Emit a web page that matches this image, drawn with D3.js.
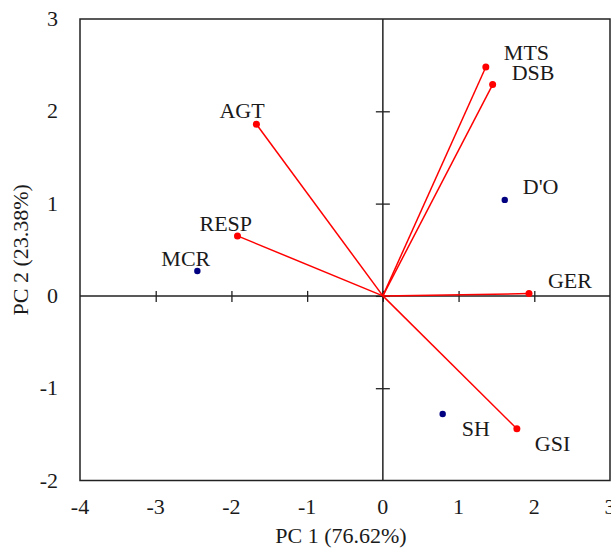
<!DOCTYPE html>
<html><head><meta charset="utf-8">
<script src="https://cdn.jsdelivr.net/npm/d3@7"></script>
<style>body{margin:0;background:#fff}svg{display:block}text{font-family:"Liberation Serif","Times New Roman",serif;fill:#1a1a1a}</style>
</head><body><svg id="c" width="611" height="549"></svg>
<script>
// Variable loadings (vectors)
const varNames = ["MTS","DSB","GER","GSI","AGT","RESP"];
const varPC1 = [1.36, 1.45, 1.93, 1.77, -1.67, -1.92];
const varPC2 = [2.48, 2.29, 0.025, -1.44, 1.86, 0.65];
// Observation scores
const obsNames = ["MCR","D'O","SH"];
const obsPC1 = [-2.45, 1.61, 0.79];
const obsPC2 = [0.27, 1.04, -1.28];
// Axis ticks
const xTicks = [-4,-3,-2,-1,0,1,2,3];
const yTicks = [-2,-1,0,1,2,3];
const xTitle = "PC 1 (76.62%)";
const yTitle = "PC 2 (23.38%)";

// label placement (layout only)
const labelOffset = {
  "MTS":[18,-7],"DSB":[19,-5],"GER":[19,-6],"GSI":[18,22],
  "AGT":[-37,-6],"RESP":[-38,-5],"MCR":[-36,-5],"D'O":[18,-6],"SH":[19,22]
};

const svg = d3.select("#c");
const L=80, R=610, T=19, B=480.5;
const x = d3.scaleLinear().domain([-4,3]).range([L,R]);
const y = d3.scaleLinear().domain([-2,3]).range([B,T]);
const fs = 22;

// frame
svg.append("rect").attr("x",L).attr("y",T).attr("width",R-L).attr("height",B-T)
  .attr("fill","none").attr("stroke","#222").attr("stroke-width",1.5);

// axes through origin
const xAxis = d3.axisBottom(x).tickValues(xTicks.filter(d=>d>-4&&d<3)).tickSize(0).tickFormat("");
const gx = svg.append("g").attr("transform",`translate(0,${y(0)})`).call(xAxis);
gx.select(".domain").remove();
gx.selectAll(".tick").append("line").attr("y1",-5).attr("y2",6).attr("stroke","#222").attr("stroke-width",1.3);
svg.append("line").attr("x1",L).attr("x2",R).attr("y1",y(0)).attr("y2",y(0)).attr("stroke","#222").attr("stroke-width",1.5);

const yAxis = d3.axisLeft(y).tickValues(yTicks.filter(d=>d>-2&&d<3)).tickSize(0).tickFormat("");
const gy = svg.append("g").attr("transform",`translate(${x(0)},0)`).call(yAxis);
gy.select(".domain").remove();
gy.selectAll(".tick").append("line").attr("x1",-7).attr("x2",7).attr("stroke","#222").attr("stroke-width",1.3);
svg.append("line").attr("x1",x(0)).attr("x2",x(0)).attr("y1",T).attr("y2",B).attr("stroke","#222").attr("stroke-width",1.5);

// tick labels
svg.append("g").selectAll("text").data(xTicks).join("text")
  .attr("x",d=>x(d)).attr("y",B+33).attr("text-anchor","middle").attr("font-size",fs)
  .text(d=>d);
svg.append("g").selectAll("text").data(yTicks).join("text")
  .attr("x",58).attr("y",d=>y(d)+7).attr("text-anchor","end").attr("font-size",fs)
  .text(d=>d);

// axis titles
svg.append("text").attr("x",(L+R)/2-4).attr("y",543).attr("text-anchor","middle").attr("font-size",fs).text(xTitle);
svg.append("text").attr("transform",`translate(28,${(T+B)/2}) rotate(-90)`).attr("text-anchor","middle").attr("font-size",fs).text(yTitle);

// vectors
const vars = varNames.map((n,i)=>({n, a:varPC1[i], b:varPC2[i]}));
svg.append("g").selectAll("line").data(vars).join("line")
  .attr("x1",x(0)).attr("y1",y(0)).attr("x2",d=>x(d.a)).attr("y2",d=>y(d.b))
  .attr("stroke","#ff0000").attr("stroke-width",1.5);
svg.append("g").selectAll("circle").data(vars).join("circle")
  .attr("cx",d=>x(d.a)).attr("cy",d=>y(d.b)).attr("r",3.5).attr("fill","#ff0000");

// observations
const obs = obsNames.map((n,i)=>({n, a:obsPC1[i], b:obsPC2[i]}));
svg.append("g").selectAll("circle").data(obs).join("circle")
  .attr("cx",d=>x(d.a)).attr("cy",d=>y(d.b)).attr("r",3.2).attr("fill","#000080");

// labels
svg.append("g").selectAll("text").data(vars.concat(obs)).join("text")
  .attr("x",d=>x(d.a)+labelOffset[d.n][0]).attr("y",d=>y(d.b)+labelOffset[d.n][1])
  .attr("font-size",fs).text(d=>d.n);
</script></body></html>
